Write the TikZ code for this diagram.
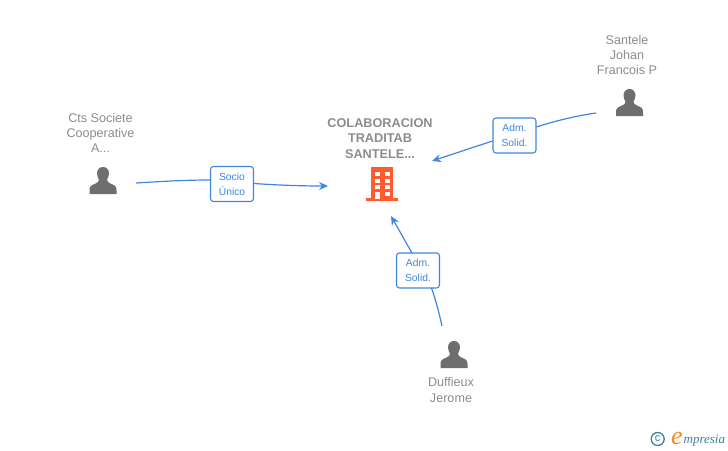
\documentclass[tikz,border=0pt]{standalone}
\usepackage{fontspec}
\setmainfont{Liberation Sans}
\newfontfamily\logofont{Liberation Serif}
\usetikzlibrary{arrows.meta}
\definecolor{namegray}{HTML}{8C8C8C}
\definecolor{icongray}{HTML}{6E6E6E}
\definecolor{linkblue}{HTML}{3F86E0}
\definecolor{bldg}{HTML}{FF5B2E}
\definecolor{logoteal}{HTML}{3D7F99}
\definecolor{logoorange}{HTML}{F08A1E}
\tikzset{
  x=1pt,y=-1pt,
  person/.pic={
    \fill[icongray] (-6,-7.5) .. controls (-6,-11.5) and (-3.4,-14) .. (0,-14)
      .. controls (3.4,-14) and (6,-11.5) .. (6,-7.5)
      .. controls (6,-4.5) and (4.6,-2.5) .. (4,-1.5)
      .. controls (4,0.5) and (5,1.5) .. (8,2.8)
      .. controls (12,4.2) and (13.5,5.5) .. (13.5,9)
      -- (13.5,13) -- (-13.5,13) -- (-13.5,9)
      .. controls (-13.5,5.5) and (-12,4.2) .. (-8,2.8)
      .. controls (-5,1.5) and (-4,0.5) .. (-4,-1.5)
      .. controls (-4.6,-2.5) and (-6,-4.5) .. (-6,-7.5) -- cycle;
  },
  namelabel/.style={font=\fontsize{12.6}{15.3}\selectfont,text=namegray,align=center,inner sep=0pt},
  titlelabel/.style={font=\fontsize{12.7}{15.3}\selectfont\bfseries,text=namegray,align=center,inner sep=0pt},
  rolebox/.style={draw=linkblue,line width=1.1pt,rounded corners=3pt,fill=white,
    font=\fontsize{10.3}{15}\selectfont,text=linkblue,align=center,
    minimum width=43pt,minimum height=35pt,inner sep=0pt},
  link/.style={draw=linkblue,line width=1.2pt},
  arrowlink/.style={link,-{Stealth[length=9pt,width=8pt]}}
}
\begin{document}
\begin{tikzpicture}
\useasboundingbox (0,0) rectangle (728,450);
% persons
\pic at (103,181) {person};
\pic at (629.5,103) {person};
\pic at (454,355) {person};
% building
\fill[bldg] (371,167) rectangle (393,199);
\fill[bldg] (366,198) rectangle (398,201);
\foreach \yy in {171.5,178.5,185}{
  \fill[white] (375,\yy) rectangle (379.5,\yy+4);
  \fill[white] (385,\yy) rectangle (389.5,\yy+4);
}
\fill[white] (385,192) rectangle (389.5,196);
\fill[white] (375,192) rectangle (379.5,199);
% labels
\node[namelabel] (cts) at (100.5,133) {Cts Societe\\Cooperative\\A...};
\node[namelabel] (san) at (627,55) {Santele\\Johan\\Francois P};
\node[namelabel] (duf) at (451,390) {Duffieux\\Jerome};
\node[titlelabel] (col) at (380,138.5) {COLABORACION\\TRADITAB\\SANTELE...};
% role boxes
\node[rolebox] (r1) at (232,184) {Socio\\Único};
\node[rolebox] (r2) at (514.5,135.5) {Adm.\\Solid.};
\node[rolebox] (r3) at (418,270.5) {Adm.\\Solid.};
% connector ends
\coordinate (c1s) at (136,183);
\coordinate (c1e) at (328,186);
\coordinate (c2s) at (596,113);
\coordinate (c2e) at (432,161);
\coordinate (c3s) at (442,326);
\coordinate (c3e) at (391,216);
\draw[link] (c1s) .. controls (160,181.5) and (185,180) .. (r1.west |- 0,180);
\draw[arrowlink] (r1.east |- 0,183.5) .. controls (275,185) and (300,186) .. (c1e);
\draw[link] (c2s) .. controls (575,116) and (553,121.5) .. (r2.east |- 0,127);
\draw[arrowlink] (r2.west |- 0,141) -- (c2e);
\draw[link] (c3s) .. controls (439,312) and (435,298) .. (431.5,288);
\draw[arrowlink] (412,253) -- (c3e);
% logo
\node[draw=logoteal,line width=1.3pt,circle,minimum size=13pt,inner sep=0pt,text=logoteal,font=\fontsize{11}{11}\selectfont] (copy) at (657.7,439) {c};
\node[inner sep=0pt,anchor=base west,font=\logofont\itshape\fontsize{26}{26}\selectfont,text=logoorange] (logoe) at (671,444) {e};
\node[inner sep=0pt,anchor=base west,font=\logofont\itshape\fontsize{13}{13}\selectfont,text=logoteal] (logot) at (683.5,443.5) {mpresia};
\end{tikzpicture}
\end{document}
